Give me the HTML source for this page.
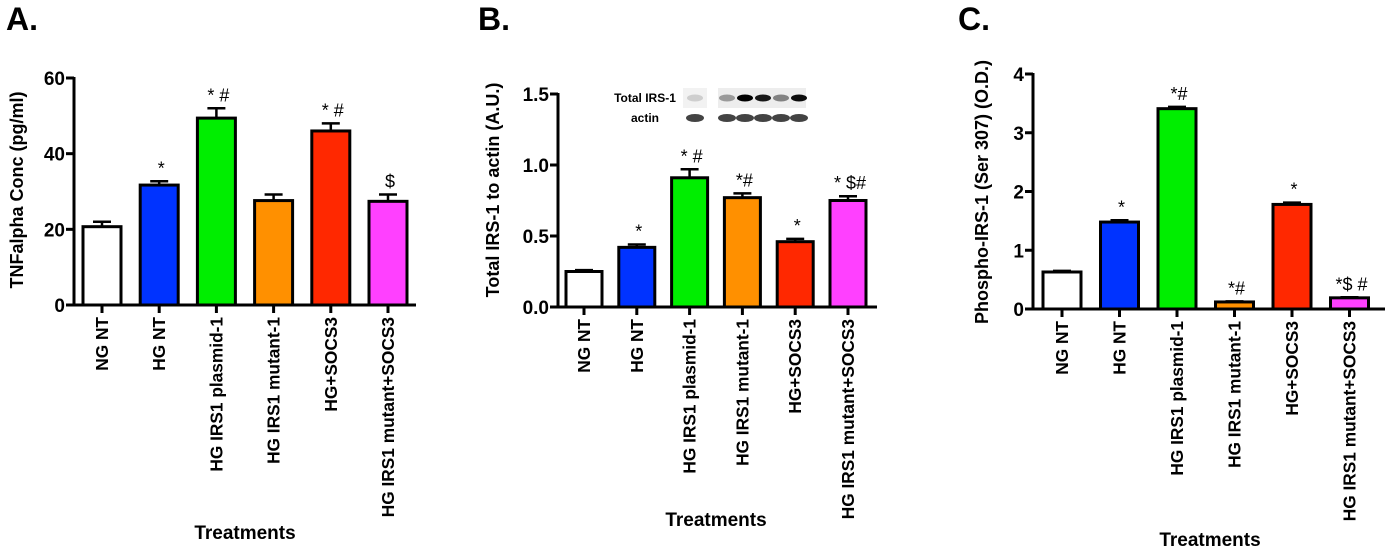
<!DOCTYPE html>
<html><head><meta charset="utf-8"><style>
html,body{margin:0;padding:0;background:#fff;}
svg{display:block;font-family:"Liberation Sans",Arial,sans-serif;font-weight:bold;}
</style></head><body>
<svg id="fig" width="1392" height="552" viewBox="0 0 1392 552"></svg>
<script>
const categories = ["NG NT","HG NT","HG IRS1 plasmid-1","HG IRS1 mutant-1","HG+SOCS3","HG IRS1 mutant+SOCS3"];
const colors = ["#ffffff","#0033ff","#00ee00","#ff9000","#ff2800","#ff40ff"];
const valuesA = [20.7, 31.7, 49.4, 27.6, 46.0, 27.4];
const errorsA = [1.3, 1.0, 2.6, 1.6, 2.0, 1.8];
const marksA = ["", "*", "* #", "", "* #", "$"];
const ticksA = [0, 20, 40, 60];
const valuesB = [0.25, 0.42, 0.91, 0.77, 0.46, 0.75];
const errorsB = [0.01, 0.02, 0.06, 0.03, 0.02, 0.03];
const marksB = ["", "*", "* #", "*#", "*", "* $#"];
const ticksB = [0.0, 0.5, 1.0, 1.5];
const tickLabelsB = ["0.0","0.5","1.0","1.5"];
const valuesC = [0.63, 1.48, 3.41, 0.12, 1.78, 0.19];
const errorsC = [0.02, 0.03, 0.03, 0.01, 0.03, 0.01];
const marksC = ["", "*", "*#", "*#", "*", "*$ #"];
const ticksC = [0, 1, 2, 3, 4];

const NS = "http://www.w3.org/2000/svg";
const svg = document.getElementById("fig");
function mk(tag, attrs, parent, text){
  const e = document.createElementNS(NS, tag);
  for (const k in attrs) e.setAttribute(k, attrs[k]);
  if (text !== undefined) e.textContent = text;
  (parent || svg).appendChild(e);
  return e;
}

function drawChart(cfg, values, errors, marks, ticks, tickLabels){
  const g = mk("g", {});
  
  
  const y = v => cfg.y0 - (v - 0) / cfg.max * (cfg.y0 - cfg.yTop);
  const xc = i => cfg.x1 + i * cfg.step;
  const L = mk("text", {x: cfg.letterX, y: 30, "font-size": 32, "font-weight": "bold"}, g, cfg.letter);
  
  
  const yt = mk("text", {transform: `translate(${cfg.ytX},${cfg.ytY}) rotate(-90)`, "text-anchor": "middle", "font-size": 18}, g, cfg.yTitle);
  
  
  values.forEach((v, i) => {
    const cx = xc(i);
    const top = y(v + errors[i]);
    const el = mk("line", {x1: cx, x2: cx, y1: y(v), y2: top, stroke: "#000", "stroke-width": 2.5}, g);
    
    
    const cap = mk("line", {x1: cx - 9, x2: cx + 9, y1: top, y2: top, stroke: "#000", "stroke-width": 2.5}, g);
    
    
    const r = mk("rect", {x: cx - cfg.bw/2, y: y(v), width: cfg.bw, height: Math.max(0, cfg.y0 - y(v)), fill: colors[i], stroke: "#000", "stroke-width": 3}, g);
    
    
    if (marks[i]) {
      const m = mk("text", {x: cx + 2, y: top - 7, "text-anchor": "middle", "font-size": 18, "font-weight": "normal"}, g, marks[i]);
      
      
    }
    const tk = mk("line", {x1: cx, x2: cx, y1: cfg.y0, y2: cfg.y0 + 8, stroke: "#000", "stroke-width": 3}, g);
    
    
    const lb = mk("text", {transform: `translate(${cx + 6},${cfg.y0 + 12}) rotate(-90)`, "text-anchor": "end", "font-size": 17.3}, g, categories[i]);
    
    
  });
  const ya = mk("line", {x1: cfg.ax, x2: cfg.ax, y1: cfg.yTop - 1, y2: cfg.y0 + 1.5, stroke: "#000", "stroke-width": 3}, g);
  
  
  const xa = mk("line", {x1: cfg.ax - 8, x2: cfg.axEnd, y1: cfg.y0, y2: cfg.y0, stroke: "#000", "stroke-width": 3}, g);
  
  
  ticks.forEach((t, i) => {
    const tl = mk("line", {x1: cfg.ax - 8, x2: cfg.ax, y1: y(t), y2: y(t), stroke: "#000", "stroke-width": 3}, g);
    
    
    const tt = mk("text", {x: cfg.ax - 9, y: y(t) + 7, "text-anchor": "end", "font-size": 19}, g, tickLabels ? tickLabels[i] : String(t));
    
    
  });
  const xt = mk("text", {x: cfg.xtX, y: cfg.xtY, "text-anchor": "middle", "font-size": 19}, g, "Treatments");
  
  
  return g;
}

drawChart({name:"chart-a-tnfalpha", letter:"A.", letterX:6, ax:74, axEnd:416, y0:305, yTop:78, max:60,
  x1:102, step:57.2, bw:38, ytX:23, ytY:190, yTitle:"TNFalpha Conc (pg/ml)", xtX:245, xtY:539},
  valuesA, errorsA, marksA, ticksA);
const gB = drawChart({name:"chart-b-total-irs1", letter:"B.", letterX:478, ax:558, axEnd:877, y0:307, yTop:94, max:1.5,
  x1:584, step:52.8, bw:36, ytX:499, ytY:190, yTitle:"Total IRS-1 to actin (A.U.)", xtX:716, xtY:526},
  valuesB, errorsB, marksB, ticksB, tickLabelsB);
drawChart({name:"chart-c-phospho-irs1", letter:"C.", letterX:958, ax:1033, axEnd:1385, y0:309, yTop:74, max:4,
  x1:1062, step:57.5, bw:38, ytX:988, ytY:192, yTitle:"Phospho-IRS-1 (Ser 307) (O.D.)", xtX:1210, xtY:546},
  valuesC, errorsC, marksC, ticksC);

const blot = mk("g", {}, gB);


const t1 = mk("text", {x: 645, y: 102, "text-anchor": "middle", "font-size": 12}, blot, "Total IRS-1");


const t2 = mk("text", {x: 645, y: 122, "text-anchor": "middle", "font-size": 12}, blot, "actin");


const bg1 = mk("rect", {x: 683, y: 88, width: 24, height: 20, fill: "#f2f2f2"}, blot);


const bg2 = mk("rect", {x: 718, y: 88, width: 88, height: 20, fill: "#ededed"}, blot);


const irsLanes = [[695,0.15],[727,0.35],[745,1],[763,0.9],[781,0.45],[799,0.95]];
irsLanes.forEach(([x,a]) => {
  const b = mk("ellipse", {cx: x, cy: 98, rx: 8, ry: 3.5, fill: "#000", opacity: a}, blot);
  
  
});
[695,727,745,763,781,799].forEach(x => {
  const b = mk("ellipse", {cx: x, cy: 118, rx: 9, ry: 4, fill: "#222", opacity: 0.85}, blot);
  
  
});
</script>
</body></html>
